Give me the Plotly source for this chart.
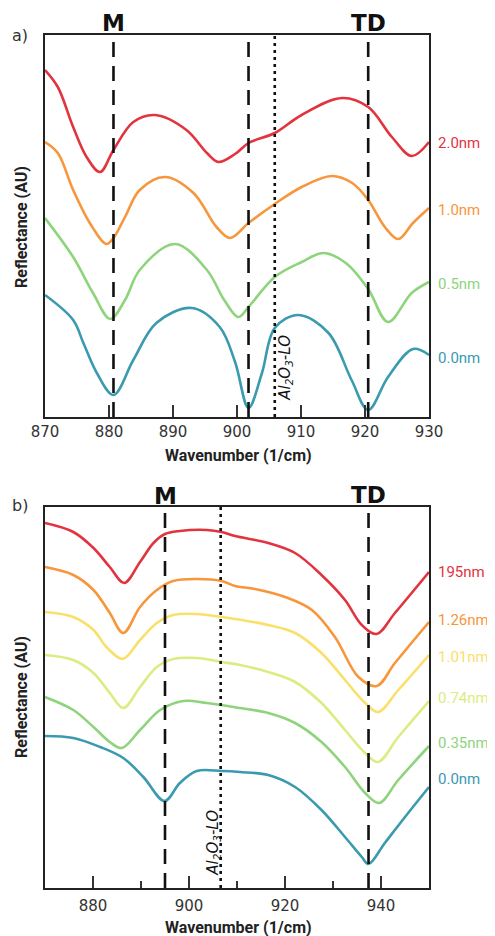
import plotly.graph_objects as go

# ---------------- data: panel a) ----------------
wn_a_20 = [870, 872, 874.4, 876.5, 878.6, 880.7, 883.8, 887.2, 892.1, 895.3, 897.1, 899.7, 901.8, 905.9, 910.1, 916.4, 920.5, 924.2, 927.3, 930]
r_a_20 = [347, 330, 290, 260, 245, 267, 295, 302, 287, 264, 255, 263, 274, 284, 302, 319, 310, 280, 261, 275]

wn_a_10 = [870, 872, 874.4, 877, 879.6, 880.7, 882.5, 884.8, 888.75, 893.2, 896.8, 898.9, 901.8, 905.9, 910.1, 914.8, 918, 920.5, 923.1, 925.2, 927.5, 930]
r_a_10 = [275, 264, 227, 194, 173, 179, 200, 227, 240, 224, 190, 179, 194, 213, 230, 241, 234, 217, 190, 178, 194, 209]

wn_a_05 = [870, 874.4, 877.5, 880.2, 882.5, 884.8, 890.3, 895.3, 898, 900.2, 901.8, 905.9, 910.1, 913.5, 917, 920.5, 923.6, 927.3, 930]
r_a_05 = [199, 160, 124, 98, 117, 147, 173, 147, 117, 100, 110, 140, 155, 164, 154, 128, 95, 124, 135]

wn_a_00 = [870, 874.4, 876, 878.1, 880.7, 883.8, 887.4, 892.9, 897.3, 899.7, 901.8, 903.9, 905.9, 909.6, 914.3, 917.9, 920.5, 923.6, 927.5, 930]
r_a_00 = [122, 97, 74, 44, 22, 57, 94, 109, 90, 55, 9, 44, 89, 102, 84, 37, 7, 40, 68, 62]

labels_a = ["2.0nm", "1.0nm", "0.5nm", "0.0nm"]
label_pos_a = [274, 207, 133, 59]
colors_a = ["#e2343f", "#f7963b", "#8ed47c", "#3a9ab0"]

lines_a_dash = [880.7, 901.8, 920.5]
line_a_dot = 905.9

# ---------------- data: panel b) ----------------
wn_b_195 = [870, 875.9, 880.1, 883.5, 886.5, 889.8, 892.6, 895, 898.1, 903.7, 906.8, 909.6, 916.5, 922.1, 927.6, 932.5, 936, 939.1, 942.9, 950]
r_b_195 = [365, 356, 340, 321, 305, 326, 345, 354, 357, 358, 356, 352, 345, 335, 313, 288, 263, 254, 275, 316]

wn_b_126 = [870, 875.9, 880.1, 883.5, 886.3, 889.8, 893.3, 896.7, 901.6, 906.8, 909.6, 913.75, 920, 925.6, 930.4, 935.3, 939.1, 942.9, 950]
r_b_126 = [321, 313, 298, 275, 255, 281, 298, 307, 309, 307, 302, 299, 291, 278, 251, 211, 202, 225, 266]

wn_b_101 = [870, 875.9, 880.1, 882.8, 886.2, 889.8, 893.3, 896.7, 901.6, 906.8, 909.6, 916.5, 922.1, 927.6, 932.5, 936.7, 939.4, 943.6, 950]
r_b_101 = [276, 271, 258, 241, 229, 248, 265, 273, 274, 271, 269, 263, 255, 235, 208, 185, 176, 198, 233]

wn_b_074 = [870, 875.9, 880.1, 883.5, 886.3, 889.8, 893.3, 896.7, 901.6, 906.8, 910.6, 916.5, 922.1, 927.6, 932.5, 936.7, 939.4, 943.6, 950]
r_b_074 = [233, 228, 215, 195, 180, 201, 221, 229, 230, 226, 223, 216, 206, 185, 158, 135, 126, 151, 187]

wn_b_035 = [870, 875.9, 880.1, 883.5, 886, 889.8, 894, 898.8, 903.7, 910.6, 916.5, 922.1, 927.6, 932.5, 936.7, 939.6, 943.6, 950]
r_b_035 = [191, 178, 161, 146, 140, 158, 178, 187, 185, 180, 175, 165, 146, 121, 95, 85, 108, 142]

wn_b_000 = [870, 875.9, 881.5, 886.3, 890.5, 894.9, 898.1, 901.6, 906.8, 910.6, 916.5, 922.1, 927.6, 932.5, 936, 937.4, 940.8, 945, 950]
r_b_000 = [152, 150, 141, 130, 111, 87, 105, 117, 117, 116, 113, 101, 78, 51, 31, 24, 45, 71, 101]

labels_b = ["195nm", "1.26nm", "1.01nm", "0.74nm", "0.35nm", "0.0nm"]
label_pos_b = [316, 268, 231, 190, 145, 109]
colors_b = ["#e2343f", "#f7963b", "#f9e06a", "#dcec80", "#8ed47c", "#3a9ab0"]

lines_b_dash = [895, 937.4]
line_b_dot = 906.6

ticks_a = [870, 880, 890, 900, 910, 920, 930]
ticks_b = [880, 900, 920, 940]

# ---------------- figure ----------------
W, H = 495, 936
OFF = 8  # page body margin of the html page


def px(x):
    return (x - OFF) / W


def py(y):
    return 1 - (y - OFF) / H


fig = go.Figure()

series_a = [(wn_a_20, r_a_20), (wn_a_10, r_a_10), (wn_a_05, r_a_05), (wn_a_00, r_a_00)]
for (xs, ys), c, n in zip(series_a, colors_a, labels_a):
    fig.add_trace(go.Scatter(x=xs, y=ys, mode="lines", name=n, xaxis="x", yaxis="y",
                             line=dict(color=c, width=2.6, shape="spline", smoothing=1.0),
                             showlegend=False, hoverinfo="skip"))

series_b = [(wn_b_195, r_b_195), (wn_b_126, r_b_126), (wn_b_101, r_b_101),
            (wn_b_074, r_b_074), (wn_b_035, r_b_035), (wn_b_000, r_b_000)]
for (xs, ys), c, n in zip(series_b, colors_b, labels_b):
    fig.add_trace(go.Scatter(x=xs, y=ys, mode="lines", name=n, xaxis="x2", yaxis="y2",
                             line=dict(color=c, width=2.6, shape="spline", smoothing=1.0),
                             showlegend=False, hoverinfo="skip"))

shapes = []
for v in lines_a_dash:
    shapes.append(dict(type="line", xref="x", yref="y domain", x0=v, x1=v, y0=0, y1=1,
                       line=dict(color="#111", width=2.6, dash="15px,9px"), layer="above"))
shapes.append(dict(type="line", xref="x", yref="y domain", x0=line_a_dot, x1=line_a_dot, y0=0, y1=1,
                   line=dict(color="#111", width=2.6, dash="3px,4px"), layer="above"))
for v in lines_b_dash:
    shapes.append(dict(type="line", xref="x2", yref="y2 domain", x0=v, x1=v, y0=0, y1=1,
                       line=dict(color="#111", width=2.6, dash="15px,9px"), layer="above"))
shapes.append(dict(type="line", xref="x2", yref="y2 domain", x0=line_b_dot, x1=line_b_dot, y0=0, y1=1,
                   line=dict(color="#111", width=2.6, dash="3px,4px"), layer="above"))

tickfont = dict(family="DejaVu Sans", size=15, color="#333")
xdom = [px(45), px(429)]

common_x = dict(showgrid=False, zeroline=False, showline=True, mirror=True, linecolor="#222",
                linewidth=2, ticks="inside", ticklen=12, tickwidth=1.5, tickcolor="#333",
                tickfont=tickfont, domain=xdom, automargin=False)
common_y = dict(showgrid=False, zeroline=False, showline=True, mirror=True, linecolor="#222",
                linewidth=2, ticks="", showticklabels=False, automargin=False)

ann = []
title_font = dict(family="Roboto", size=16, color="#222")
big_font = dict(family="DejaVu Sans", size=23, color="#111")
small_font = dict(family="DejaVu Sans", size=16, color="#333")
C = dict(xanchor="center", yanchor="middle", showarrow=False)

ann.append(dict(C, text="a)", xref="paper", yref="paper", x=px(20), y=py(35), font=small_font))
ann.append(dict(C, text="b)", xref="paper", yref="paper", x=px(20), y=py(505), font=small_font))
ann.append(dict(C, text="<b>M</b>", xref="x", yref="paper", x=lines_a_dash[0], y=py(23), font=big_font))
ann.append(dict(C, text="<b>TD</b>", xref="x", yref="paper", x=lines_a_dash[2], y=py(23), font=big_font))
ann.append(dict(C, text="<b>M</b>", xref="x2", yref="paper", x=lines_b_dash[0], y=py(496), font=big_font))
ann.append(dict(C, text="<b>TD</b>", xref="x2", yref="paper", x=lines_b_dash[1], y=py(495), font=big_font))

for yy in [455, 927]:
    ann.append(dict(C, text="<b>Wavenumber (1/cm)</b>", xref="paper", yref="paper", x=px(238), y=py(yy),
                    font=title_font))
for yy in [227, 697]:
    ann.append(dict(C, text="<b>Reflectance (AU)</b>", xref="paper", yref="paper", x=px(21), y=py(yy),
                    textangle=-90, font=title_font))

lo_font = dict(family="DejaVu Sans", size=15, color="#111")
ann.append(dict(C, text="<i>Al<sub>2</sub>O<sub>3</sub>-LO</i>", xref="x", yref="paper", x=line_a_dot, xshift=11,
                y=py(368), textangle=-90, font=lo_font))
ann.append(dict(C, text="<i>Al<sub>2</sub>O<sub>3</sub>-LO</i>", xref="x2", yref="paper", x=line_b_dot, xshift=-8,
                y=py(843), textangle=-90, font=lo_font))

lab_font = "Roboto"
for t, yy, c in zip(labels_a, label_pos_a, colors_a):
    ann.append(dict(text=t, xref="paper", yref="y", x=px(436), y=yy, xanchor="left", yanchor="middle",
                    showarrow=False, font=dict(family=lab_font, size=15, color=c)))
for t, yy, c in zip(labels_b, label_pos_b, colors_b):
    ann.append(dict(text=t, xref="paper", yref="y2", x=px(436), y=yy, xanchor="left", yanchor="middle",
                    showarrow=False, font=dict(family=lab_font, size=15, color=c)))

fig.update_layout(
    template="none",
    width=W, height=H,
    margin=dict(l=0, r=0, t=0, b=0, pad=0, autoexpand=False),
    paper_bgcolor="white", plot_bgcolor="white",
    xaxis=dict(common_x, range=[870, 930], tickvals=ticks_a, anchor="y"),
    yaxis=dict(common_y, range=[0, 382], domain=[py(417), py(35)], anchor="x"),
    xaxis2=dict(common_x, range=[870, 950], tickvals=ticks_b, anchor="y2", ticklabelstandoff=3,
                minor=dict(dtick=10, tick0=870, ticks="inside", ticklen=7, tickwidth=1.5, tickcolor="#333")),
    yaxis2=dict(common_y, range=[0, 381], domain=[py(888), py(507)], anchor="x2"),
    shapes=shapes,
    annotations=ann,
)

fig.write_html("out.html")
